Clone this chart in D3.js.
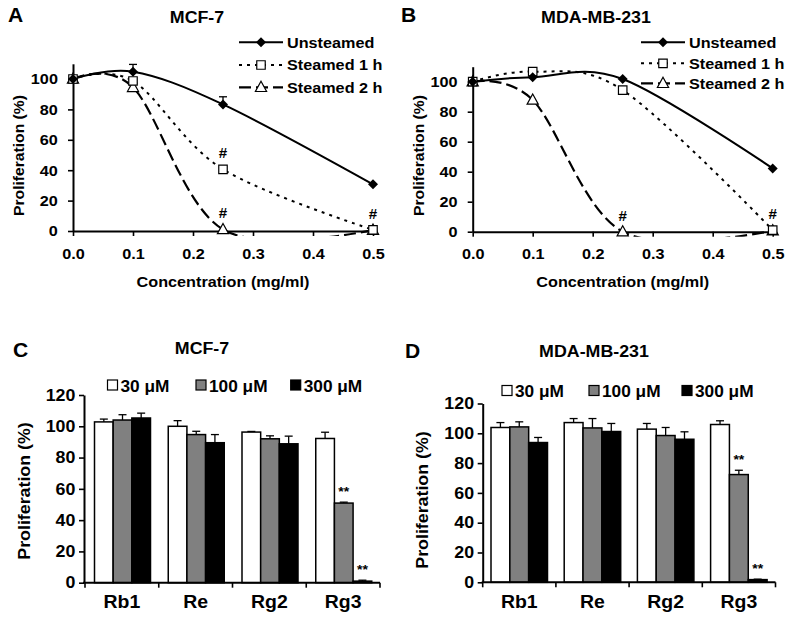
<!DOCTYPE html>
<html><head><meta charset="utf-8">
<script src="https://cdn.jsdelivr.net/npm/d3@7"></script>
<style>
body{margin:0;background:#fff}
text{font-family:"Liberation Sans",Arial,sans-serif;font-weight:bold;fill:#000}
</style>
</head><body>
<script>
// ---------- data ----------
const concentrations = [0, 0.1, 0.25, 0.5];
const concTicks = [0, 0.1, 0.2, 0.3, 0.4, 0.5];
const pctTicks = [0, 20, 40, 60, 80, 100];
const lineSeriesNames = ["Unsteamed", "Steamed 1 h", "Steamed 2 h"];

const mcfUnsteamed = [100, 104.8, 83.3, 30.7];
const mcfUnsteamedErr = [0, 4.8, 5, 0];
const mcfSteamed1h = [100, 98.7, 40.6, 0.8];
const mcfSteamed2h = [100, 94.5, 1, 0.6];
const mcfHash = [[1, 2], [2, 2], [1, 3]];   // [series, point]

const mdaUnsteamed = [100, 103, 101.8, 42.2];
const mdaUnsteamedErr = [0, 0, 0, 0];
const mdaSteamed1h = [100, 106.7, 94.4, 1.1];
const mdaSteamed2h = [100, 87.8, 0, 0.7];
const mdaHash = [[2, 2], [1, 3]];

const ginsenosides = ["Rb1", "Re", "Rg2", "Rg3"];
const doseNames = ["30 μM", "100 μM", "300 μM"];
const barTicks = [0, 20, 40, 60, 80, 100, 120];

const mcf30 = [102.8, 100, 96.3, 92.2];
const mcf30Err = [1.8, 3.6, 0.4, 4];
const mcf100 = [104, 94.7, 92, 50.9];
const mcf100Err = [3.4, 2.1, 1.9, 0.6];
const mcf300 = [105.3, 89.5, 88.8, 1];
const mcf300Err = [3.1, 5.2, 4.9, 0.6];
const mcfStars = [[1, 3], [2, 3]];   // [dose, category]

const mda30 = [103.9, 107.2, 102.8, 105.9];
const mda30Err = [3.3, 2.7, 3.8, 2.5];
const mda100 = [104.3, 103.6, 98.5, 72.3];
const mda100Err = [3.4, 6.3, 5.4, 2.9];
const mda300 = [93.8, 101.2, 96, 1.8];
const mda300Err = [3.4, 5.4, 5, 0.3];
const mdaStars = [[1, 3], [2, 3]];

// ---------- drawing ----------
const SX = 1.08;
const svg = d3.select("body").append("svg").attr("width", 800).attr("height", 625)
  .style("background", "#fff");

function label(g, s, x, y, size, anchor = "start", rot = 0) {
  return g.append("text")
    .attr("transform", `translate(${x},${y})${rot ? ` rotate(${rot})` : ""} scale(${SX},1)`)
    .attr("text-anchor", anchor).style("font-size", size + "px").text(s);
}
function styleAxis(ax, size) {
  ax.attr("font-family", null).attr("font-size", null);
  ax.select(".domain").attr("stroke", "#000").attr("stroke-width", 2);
  ax.selectAll(".tick line").attr("stroke", "#000").attr("stroke-width", 1.6);
  ax.selectAll(".tick text").style("font-size", size + "px")
    .attr("transform", `scale(${SX},1)`);
}
function marker(g, type, cx, cy) {
  if (type === 0) {
    g.append("path").attr("d", d3.symbol(d3.symbolSquare, 50)())
      .attr("transform", `translate(${cx},${cy}) rotate(45)`).attr("fill", "#000");
  } else if (type === 1) {
    g.append("path").attr("d", d3.symbol(d3.symbolSquare, 72)())
      .attr("transform", `translate(${cx},${cy})`)
      .attr("fill", "#fff").attr("stroke", "#000").attr("stroke-width", 1.2);
  } else {
    g.append("path").attr("d", "M0,-6L5.6,4.2L-5.6,4.2Z")
      .attr("transform", `translate(${cx},${cy})`)
      .attr("fill", "#fff").attr("stroke", "#000").attr("stroke-width", 1.2);
  }
}
const lineDash = [null, "3,5", "12,5"];
const lineWidth = [2, 2, 2.2];

function linePanel(o) {
  const g = svg.append("g");
  const x = d3.scaleLinear().domain([0, 0.5]).range([o.x0, o.x1]);
  const y = d3.scaleLinear().domain([0, 110]).range([o.y0, o.yTop]);
  const clipId = "clip" + o.id;
  svg.append("clipPath").attr("id", clipId).append("rect")
    .attr("x", o.x0 - 10).attr("y", o.yTop - 30)
    .attr("width", o.x1 - o.x0 + 20).attr("height", o.y0 - o.yTop + 30 + 5);

  const xa = g.append("g").attr("transform", `translate(0,${o.y0})`)
    .call(d3.axisBottom(x).tickValues(concTicks).tickFormat(d3.format(".1f"))
      .tickSize(5).tickSizeOuter(0).tickPadding(12));
  styleAxis(xa, 15);
  const ya = g.append("g").attr("transform", `translate(${o.x0},0)`)
    .call(d3.axisLeft(y).tickValues(pctTicks).tickSize(5).tickSizeOuter(0).tickPadding(9));
  styleAxis(ya, 15);

  const series = [o.s0, o.s1, o.s2];
  const lineGen = d3.line().x((d, i) => x(concentrations[i])).y(d => y(d))
    .curve(d3.curveCardinal.tension(0));
  const lg = g.append("g").attr("clip-path", `url(#${clipId})`);
  [2, 1, 0].forEach(k => {
    lg.append("path").datum(series[k]).attr("d", lineGen)
      .attr("fill", "none").attr("stroke", "#000").attr("stroke-width", lineWidth[k])
      .attr("stroke-dasharray", lineDash[k]);
  });
  // error bars (unsteamed)
  o.err.forEach((e, i) => {
    if (!e) return;
    const cx = x(concentrations[i]), yt = y(o.s0[i] + e);
    g.append("line").attr("x1", cx).attr("x2", cx).attr("y1", y(o.s0[i])).attr("y2", yt)
      .attr("stroke", "#000").attr("stroke-width", 1.3);
    g.append("line").attr("x1", cx - 4).attr("x2", cx + 4).attr("y1", yt).attr("y2", yt)
      .attr("stroke", "#000").attr("stroke-width", 1.3);
  });
  [2, 1, 0].forEach(k => series[k].forEach((v, i) => marker(g, k, x(concentrations[i]), y(v))));
  o.hash.forEach(([k, i]) => label(g, "#", x(concentrations[i]), y(series[k][i]) - 11, 14, "middle"));

  // legend
  lineSeriesNames.forEach((name, k) => {
    const ly = o.legY[k];
    g.append("line").attr("x1", o.legX0).attr("x2", o.legX1).attr("y1", ly).attr("y2", ly)
      .attr("stroke", "#000").attr("stroke-width", lineWidth[k]).attr("stroke-dasharray", lineDash[k]);
    marker(g, k, (o.legX0 + o.legX1) / 2, ly);
    label(g, name, o.legX1 + 4, ly + 5.4, 15);
  });
  label(g, o.title, o.titleX, 22.7, 16.5, "middle");
  label(g, o.letter, o.letterX, 21.7, 19.5);
  label(g, "Concentration (mg/ml)", (o.x0 + o.x1) / 2, 286.5, 15, "middle");
  label(g, "Proliferation (%)", o.ylabX, 155.5, 14.5, "middle", -90);
}

const barFill = ["#fff", "#808080", "#000"];
function barPanel(o) {
  const g = svg.append("g");
  const x0 = d3.scaleBand().domain(ginsenosides).range([o.bandStart, o.bandEnd]);
  const x1 = d3.scaleBand().domain(doseNames).range([o.off, o.off + o.groupW]);
  const y = d3.scaleLinear().domain([0, 120]).range([o.y0, o.y120]);
  const vals = [o.d30, o.d100, o.d300], errs = [o.e30, o.e100, o.e300];

  vals.forEach((arr, j) => arr.forEach((v, i) => {
    const bx = x0(ginsenosides[i]) + x1(doseNames[j]);
    const w = x1.bandwidth();
    const e = errs[j][i];
    const cx = bx + w / 2, yt = y(v + e);
    g.append("line").attr("x1", cx).attr("x2", cx).attr("y1", y(v)).attr("y2", yt)
      .attr("stroke", "#000").attr("stroke-width", 1.3);
    g.append("line").attr("x1", cx - 4).attr("x2", cx + 4).attr("y1", yt).attr("y2", yt)
      .attr("stroke", "#000").attr("stroke-width", 1.3);
    g.append("rect").attr("x", bx).attr("y", y(v)).attr("width", w).attr("height", y(0) - y(v))
      .attr("fill", barFill[j]).attr("stroke", "#000").attr("stroke-width", 1.5);
  }));
  o.stars.forEach(([j, i]) => {
    const cx = x0(ginsenosides[i]) + x1(doseNames[j]) + x1.bandwidth() / 2;
    label(g, "**", cx, y(vals[j][i] + errs[j][i]) - 6, 13, "middle");
  });

  const ya = g.append("g").attr("transform", `translate(${o.axisX},0)`)
    .call(d3.axisLeft(y).tickValues(barTicks).tickSize(5).tickSizeOuter(0).tickPadding(3));
  styleAxis(ya, 16.5);
  g.append("line").attr("x1", o.axisX - 1).attr("x2", o.bandEnd).attr("y1", y(0)).attr("y2", y(0))
    .attr("stroke", "#000").attr("stroke-width", 2);
  const xa = g.append("g").attr("transform", `translate(0,${y(0)})`)
    .call(d3.axisBottom(x0).tickSize(0).tickPadding(13));
  styleAxis(xa, 18);
  xa.select(".domain").remove();
  const bounds = ginsenosides.map(c => x0(c)).concat([o.bandEnd]);
  g.selectAll(null).data(bounds).enter().append("line")
    .attr("x1", d => d).attr("x2", d => d).attr("y1", y(0)).attr("y2", y(0) + 5)
    .attr("stroke", "#000").attr("stroke-width", 1.6);

  // legend
  doseNames.forEach((name, j) => {
    g.append("rect").attr("x", o.legBox[j]).attr("y", o.legY - 10).attr("width", 10).attr("height", 10)
      .attr("fill", barFill[j]).attr("stroke", "#000").attr("stroke-width", 1.2);
    label(g, name, o.legBox[j] + 13, o.legY + 1.5, 16);
  });
  label(g, o.title, o.titleX, o.titleY, 16.5, "middle");
  label(g, o.letter, o.letterX, o.letterY, 19.5);
  label(g, "Proliferation (%)", o.ylabX, o.ylabY, 16.5, "middle", -90);
}

linePanel({id: "A", x0: 73, x1: 373, y0: 231, yTop: 231 - 110 * 1.52,
  s0: mcfUnsteamed, s1: mcfSteamed1h, s2: mcfSteamed2h, err: mcfUnsteamedErr, hash: mcfHash,
  legX0: 239, legX1: 283, legY: [42.3, 65, 87.3],
  title: "MCF-7", titleX: 197, letter: "A", letterX: 8, ylabX: 24});
linePanel({id: "B", x0: 472.7, x1: 772.7, y0: 231.7, yTop: 231.7 - 110 * 1.5,
  s0: mdaUnsteamed, s1: mdaSteamed1h, s2: mdaSteamed2h, err: mdaUnsteamedErr, hash: mdaHash,
  legX0: 641, legX1: 685, legY: [42.3, 63.3, 83.3],
  title: "MDA-MB-231", titleX: 596, letter: "B", letterX: 401, ylabX: 424});

barPanel({axisX: 84, bandStart: 85, bandEnd: 380, off: 9.5, groupW: 56, y0: 582.7, y120: 395,
  d30: mcf30, d100: mcf100, d300: mcf300, e30: mcf30Err, e100: mcf100Err, e300: mcf300Err,
  stars: mcfStars, legBox: [107.5, 196, 290.7], legY: 390,
  title: "MCF-7", titleX: 202, titleY: 354, letter: "C", letterX: 13, letterY: 356.5,
  ylabX: 30, ylabY: 491});
barPanel({axisX: 482.7, bandStart: 482.7, bandEnd: 775.5, off: 8.3, groupW: 56.5, y0: 582.3, y120: 403.5,
  d30: mda30, d100: mda100, d300: mda300, e30: mda30Err, e100: mda100Err, e300: mda300Err,
  stars: mdaStars, legBox: [502, 589, 682], legY: 395.5,
  title: "MDA-MB-231", titleX: 594, titleY: 356.7, letter: "D", letterX: 405, letterY: 358,
  ylabX: 428, ylabY: 500});
</script>
</body></html>
